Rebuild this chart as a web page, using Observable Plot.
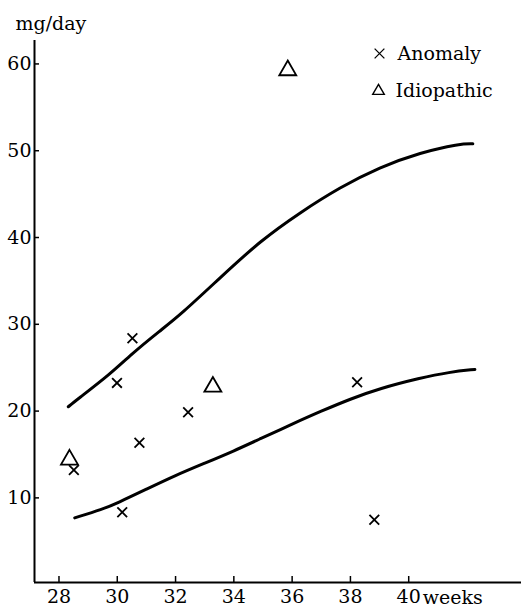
<!DOCTYPE html>
<html><head><meta charset="utf-8">
<script src="https://cdn.jsdelivr.net/npm/d3@7"></script>
<script src="https://cdn.jsdelivr.net/npm/@observablehq/plot@0.6"></script>
<style>
html,body{margin:0;padding:0;background:#fff;}
#chart{width:521px;height:608px;}
</style></head><body><div id="chart"></div>
<script>
// Anomaly (×)
const anomalyWeeks = [28.51, 29.99, 30.52, 30.76, 30.17, 32.43, 38.23, 38.82];
const anomalyMg    = [13.2, 23.25, 28.4, 16.35, 8.35, 19.87, 23.33, 7.47];
// Idiopathic (△)
const idioWeeks = [28.36, 33.28, 35.85];
const idioMg    = [14.4, 22.8, 59.26];
// Upper reference curve
const upperWeeks = [28.32, 28.57, 29.77, 30.46, 31.48, 32.17, 33.54, 34.9, 36.28, 37.65, 39.0, 40.4, 41.75, 42.2];
const upperMg    = [20.5, 21.2, 24.3, 26.5, 29.3, 31.1, 35.4, 39.6, 42.9, 45.8, 48.1, 49.8, 50.8, 50.8];
// Lower reference curve
const lowerWeeks = [28.54, 29.5, 30.0, 31.0, 32.0, 33.0, 34.0, 34.9, 36.0, 37.0, 38.0, 39.0, 40.38, 41.4, 42.27];
const lowerMg    = [7.7, 8.7, 9.4, 11.0, 12.6, 14.0, 15.4, 16.8, 18.5, 20.0, 21.4, 22.6, 23.8, 24.5, 24.8];
// Ticks and labels
const xTicks = [28, 30, 32, 34, 36, 38, 40];
const yTicks = [10, 20, 30, 40, 50, 60];
const legendLabels = ["Anomaly", "Idiopathic"];
const yLabel = "mg/day";
const xLabel = "weeks";

const xDomain = [27.16, 43.87];
const yDomain = [0.25, 62.7];

const anomaly = anomalyWeeks.map((w, i) => ({w, mg: anomalyMg[i]}));
const idio = idioWeeks.map((w, i) => ({w, mg: idioMg[i]}));
const upper = upperWeeks.map((w, i) => ({w, mg: upperMg[i]}));
const lower = lowerWeeks.map((w, i) => ({w, mg: lowerMg[i]}));

const font = "'DejaVu Serif', serif";

const chart = Plot.plot({
  width: 521,
  height: 608,
  marginLeft: 34,
  marginRight: 0,
  marginTop: 40,
  marginBottom: 26,
  x: {domain: xDomain},
  y: {domain: yDomain},
  style: {fontFamily: font, fontSize: "19px", color: "#000", background: "#fff"},
  marks: [
    Plot.ruleX([xDomain[0]], {stroke: "#000", strokeWidth: 2}),
    Plot.ruleY([yDomain[0]], {stroke: "#000", strokeWidth: 2}),
    Plot.axisX({ticks: xTicks, label: null, tickSize: -6, tickPadding: 13, strokeWidth: 1.5, fontSize: 19, fill: "#000"}),
    Plot.axisY({ticks: yTicks, label: null, tickSize: -5, tickPadding: 8, strokeWidth: 1.5, fontSize: 19, fill: "#000"}),
    Plot.line(upper, {x: "w", y: "mg", curve: "basis", stroke: "#000", strokeWidth: 3}),
    Plot.line(lower, {x: "w", y: "mg", curve: "basis", stroke: "#000", strokeWidth: 3}),
    Plot.dot(anomaly, {x: "w", y: "mg", symbol: "times", r: 4.5, stroke: "#000", strokeWidth: 1.8}),
    Plot.dot(idio, {x: "w", y: "mg", symbol: "triangle", r: 6.3, stroke: "#000", strokeWidth: 1.8, fill: "none"}),
    // axis titles
    Plot.text([yLabel], {frameAnchor: "top-left", text: d => d, textAnchor: "start", lineAnchor: "middle", dx: -19, dy: -17, fontSize: 19, fill: "#000"}),
    Plot.text([xLabel], {x: () => xTicks[xTicks.length - 1], frameAnchor: "bottom", text: d => d, textAnchor: "start", lineAnchor: "middle", dx: 14, dy: 15, fontSize: 19, fill: "#000"}),
    // legend
    Plot.dot([legendLabels[0]], {frameAnchor: "top-left", symbol: "times", r: 4.5, dx: 345, dy: 13, stroke: "#000", strokeWidth: 1.3}),
    Plot.dot([legendLabels[1]], {frameAnchor: "top-left", symbol: "triangle", r: 4.3, dx: 344, dy: 50.5, stroke: "#000", strokeWidth: 1.4, fill: "none"}),
    Plot.text([legendLabels[0]], {frameAnchor: "top-left", text: d => d, textAnchor: "start", lineAnchor: "middle", dx: 363, dy: 13, fontSize: 19, fill: "#000"}),
    Plot.text([legendLabels[1]], {frameAnchor: "top-left", text: d => d, textAnchor: "start", lineAnchor: "middle", dx: 361, dy: 50.5, fontSize: 19, fill: "#000"})
  ]
});
document.getElementById("chart").appendChild(chart);
</script>
</body></html>
